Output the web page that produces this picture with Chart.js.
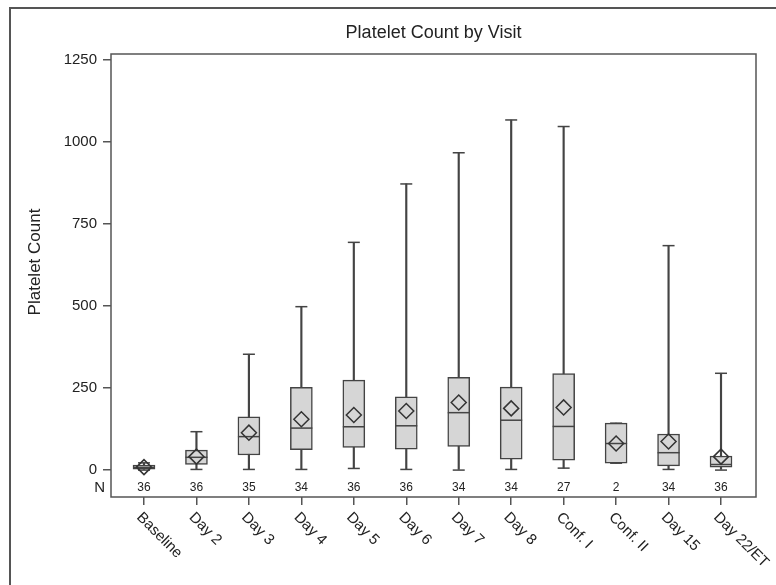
<!DOCTYPE html>
<html>
<head>
<meta charset="utf-8">
<script src="https://cdn.jsdelivr.net/npm/chart.js@4/dist/chart.umd.min.js"></script>
<style>
html,body{margin:0;padding:0;background:#fff;}
canvas{display:block;}
</style>
</head>
<body>
<canvas id="c" width="776" height="585"></canvas>
<script>
const categories = ['Baseline','Day 2','Day 3','Day 4','Day 5','Day 6','Day 7','Day 8','Conf. I','Conf. II','Day 15','Day 22/ET'];
const nCounts   = [36, 36, 35, 34, 36, 36, 34, 34, 27, 2, 34, 36];
const minVals   = [0, 2, 2, 2, 5, 2, 0, 2, 6, 21, 2, 0];
const q1Vals    = [3, 17, 46, 62, 69, 64, 72, 33, 30, 21, 13, 9];
const medianVals= [8, 39, 102, 128, 132, 135, 175, 152, 133, 81, 53, 17];
const q3Vals    = [15, 61, 162, 252, 274, 223, 283, 253, 294, 143, 110, 43];
const maxVals   = [22, 117, 353, 498, 694, 872, 967, 1067, 1047, 143, 684, 295];
const meanVals  = [9, 41, 114, 155, 168, 180, 206, 188, 191, 81, 87, 41];
const yTickVals = [0, 250, 500, 750, 1000, 1250];

const FONT = '"Liberation Sans", Arial, sans-serif';
const LINE = '#444';
const TEXT = '#222';
const idx = categories.map((_, i) => i);
const pts = arr => arr.map((v, i) => ({x: i, y: v}));
const range = (a, b) => a.map((v, i) => ({x: i, y: [v, b[i]]}));

const decor = {
  id: 'decor',
  beforeDraw(chart) {
    const ctx = chart.ctx;
    ctx.save();
    ctx.fillStyle = '#fff';
    ctx.fillRect(0, 0, chart.width, chart.height);
    ctx.strokeStyle = '#555';
    ctx.lineWidth = 2;
    ctx.beginPath();
    ctx.moveTo(10, chart.height + 5);
    ctx.lineTo(10, 8);
    ctx.lineTo(chart.width + 5, 8);
    ctx.stroke();
    ctx.restore();
  },
  afterDraw(chart) {
    const {ctx, chartArea: a, scales: {x, y}} = chart;
    ctx.save();
    // plot frame
    ctx.strokeStyle = '#555';
    ctx.lineWidth = 1.5;
    ctx.strokeRect(a.left, a.top, a.right - a.left, a.bottom - a.top);
    ctx.fillStyle = TEXT;
    // title
    ctx.font = '18px ' + FONT;
    ctx.textAlign = 'center';
    ctx.textBaseline = 'alphabetic';
    ctx.fillText('Platelet Count by Visit', (a.left + a.right) / 2, 38);
    // y title
    ctx.save();
    ctx.translate(35, (y.getPixelForValue(0) + y.getPixelForValue(1250)) / 2 - 3);
    ctx.rotate(-Math.PI / 2);
    ctx.font = '17px ' + FONT;
    ctx.textAlign = 'center';
    ctx.textBaseline = 'middle';
    ctx.fillText('Platelet Count', 0, 0);
    ctx.restore();
    // N row
    const nY = y.getPixelForValue(-55);
    ctx.font = '15px ' + FONT;
    ctx.textAlign = 'right';
    ctx.textBaseline = 'middle';
    ctx.fillText('N', a.left - 6, nY);
    ctx.font = '12px ' + FONT;
    ctx.textAlign = 'center';
    nCounts.forEach((n, i) => ctx.fillText(String(n), x.getPixelForValue(i), nY));
    // x labels rotated
    ctx.font = '15px ' + FONT;
    ctx.textAlign = 'left';
    ctx.textBaseline = 'middle';
    categories.forEach((c, i) => {
      ctx.save();
      ctx.translate(x.getPixelForValue(i) - 5, a.bottom + 18);
      ctx.rotate(Math.PI / 4);
      ctx.fillText(c, 0, 0);
      ctx.restore();
    });
    ctx.restore();
  }
};

new Chart(document.getElementById('c'), {
  type: 'bar',
  data: {
    datasets: [
      { type: 'bar', data: range(minVals, maxVals), backgroundColor: LINE, borderWidth: 0,
        barThickness: 1.5, grouped: false, order: 6 },
      { type: 'bar', data: range(q1Vals, q3Vals), backgroundColor: '#d6d6d6', borderColor: LINE,
        borderWidth: 1.5, borderSkipped: false, barThickness: 22, grouped: false, order: 5 },
      { type: 'scatter', data: pts(medianVals), pointStyle: 'line', pointRadius: 11,
        borderColor: LINE, borderWidth: 1.5, order: 4 },
      { type: 'scatter', data: pts(minVals), pointStyle: 'line', pointRadius: 6,
        borderColor: LINE, borderWidth: 1.5, order: 3 },
      { type: 'scatter', data: pts(maxVals), pointStyle: 'line', pointRadius: 6,
        borderColor: LINE, borderWidth: 1.5, order: 2 },
      { type: 'scatter', data: pts(meanVals), pointStyle: 'rectRot', pointRadius: 7.5,
        backgroundColor: 'rgba(0,0,0,0)', borderColor: '#333', borderWidth: 1.5, order: 1 }
    ]
  },
  options: {
    responsive: false,
    animation: false,
    events: [],
    layout: { padding: { left: 0, top: 54, right: 20, bottom: 0 } },
    plugins: { legend: { display: false }, tooltip: { enabled: false }, title: { display: false } },
    scales: {
      x: {
        type: 'linear', min: -0.629, max: 11.667, offset: false,
        afterBuildTicks: s => { s.ticks = idx.map(v => ({value: v})); },
        afterFit: s => { s.height = 88; },
        ticks: { display: false },
        grid: { display: true, offset: false, drawOnChartArea: false, drawTicks: true, tickLength: 8, color: '#555', lineWidth: 1.5 },
        border: { display: false }
      },
      y: {
        type: 'linear', min: -82, max: 1268,
        afterBuildTicks: s => { s.ticks = yTickVals.map(v => ({value: v})); },
        afterFit: s => { s.width = 111; },
        ticks: { font: { family: FONT, size: 15 }, color: TEXT, padding: 6, callback: v => String(v) },
        grid: { display: true, drawOnChartArea: false, drawTicks: true, tickLength: 8, color: '#555', lineWidth: 1.5 },
        border: { display: false }
      }
    }
  },
  plugins: [decor]
});
</script>
</body>
</html>
